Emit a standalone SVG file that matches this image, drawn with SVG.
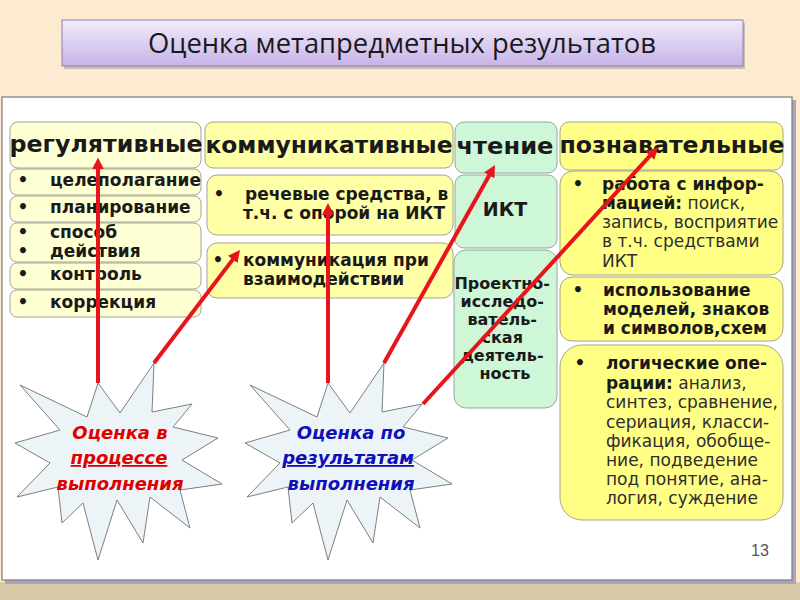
<svg xmlns="http://www.w3.org/2000/svg" width="800" height="600" viewBox="0 0 800 600">
<defs>
<linearGradient id="tg" x1="0" y1="0" x2="0" y2="1">
<stop offset="0" stop-color="#F2ECFB"/>
<stop offset="1" stop-color="#C6B3E8"/>
</linearGradient>
<marker id="ah" viewBox="0 0 10 10" refX="2" refY="5" markerWidth="3" markerHeight="3" orient="auto" markerUnits="strokeWidth">
<path d="M0,0 L10,5 L0,10 z" fill="#E8141B"/>
</marker>
<polygon id="star" points="98,383 120,413 154,363 152,412 192,404 173,427 218,438 182,460 222,484 180,490 190,528 150,497 143,543 117,500 98,560 83,503 62,523 58,487 17,497 50,463 15,443 60,430 20,385 87,417"/>
</defs>
<style>
.c1{fill:#FFFFD4;stroke:#A3A393;stroke-width:1}
.c2{fill:#FFFFA6;stroke:#A3A393;stroke-width:1}
.c3{fill:#CDF7D7;stroke:#97A89B;stroke-width:1}
.c4{fill:#FFFF86;stroke:#A3A38A;stroke-width:1}
.t{font-family:"DejaVu Sans",Verdana,sans-serif;fill:#1A1A1A}
.h{font-size:23px;font-weight:bold}
.i{font-size:17px;font-weight:bold}
.n{font-weight:normal;fill:#2E2E2E}
.st{fill:#EDF4F7;stroke:#7E7E7E;stroke-width:1}
.sx{font-family:"DejaVu Sans",Verdana,sans-serif;font-size:18px;font-weight:bold;font-style:italic;text-anchor:middle}
.ar{stroke:#E8141B;stroke-width:4;fill:none;marker-end:url(#ah)}
</style>

<!-- background -->
<rect x="0" y="0" width="800" height="600" fill="#FCEBD0"/>
<rect x="0" y="582" width="800" height="18" fill="#D8CAA6"/>

<!-- title -->
<g id="title">
<rect x="64" y="23" width="681" height="46" fill="#8E8898" opacity="0.45"/>
<rect x="62" y="20" width="681" height="46" fill="url(#tg)" stroke="#8C7EA6" stroke-width="1"/>
<text x="402" y="53" font-family="'Open Sans','Liberation Sans',sans-serif" font-size="27" fill="#1A1A1A" text-anchor="middle" textLength="508" lengthAdjust="spacingAndGlyphs">Оценка метапредметных результатов</text>
</g>

<!-- white panel -->
<g id="panel">
<rect x="5" y="100" width="791" height="484" fill="#ADA3BC"/>
<rect x="2" y="97" width="790" height="483" fill="#FFFFFF" stroke="#7A7A7A" stroke-width="1.2"/>
<text x="760" y="556" font-family="'Liberation Sans',Arial,sans-serif" font-size="16" fill="#555555" text-anchor="middle">13</text>
</g>

<!-- column 1: регулятивные -->
<g id="reg">
<rect class="c1" x="10" y="122" width="191" height="46" rx="8"/>
<text class="t h" x="106" y="152" text-anchor="middle" textLength="193" lengthAdjust="spacingAndGlyphs">регулятивные</text>
</g>
<g id="reg1">
<rect class="c1" x="10" y="169" width="191" height="26" rx="7"/>
<text class="t i" x="23" y="186" text-anchor="middle">•</text>
<text class="t i" x="50" y="186">целеполагание</text>
</g>
<g id="reg2">
<rect class="c1" x="10" y="196" width="191" height="26" rx="7"/>
<text class="t i" x="23" y="213" text-anchor="middle">•</text>
<text class="t i" x="50" y="213">планирование</text>
</g>
<g id="reg3">
<rect class="c1" x="10" y="223" width="191" height="39" rx="7"/>
<text class="t i" x="23" y="238" text-anchor="middle" font-size="16.5">•</text>
<text class="t i" x="50" y="238" font-size="16.5">способ</text>
<text class="t i" x="23" y="257" text-anchor="middle" font-size="16.5">•</text>
<text class="t i" x="50" y="257" font-size="16.5">действия</text>
</g>
<g id="reg4">
<rect class="c1" x="10" y="263" width="191" height="26" rx="7"/>
<text class="t i" x="23" y="280" text-anchor="middle">•</text>
<text class="t i" x="50" y="280">контроль</text>
</g>
<g id="reg5">
<rect class="c1" x="10" y="290" width="191" height="27" rx="7"/>
<text class="t i" x="23" y="308" text-anchor="middle">•</text>
<text class="t i" x="50" y="308">коррекция</text>
</g>

<!-- column 2: коммуникативные -->
<g id="kom">
<rect class="c2" x="205" y="122" width="248" height="46" rx="8"/>
<text class="t h" x="329" y="153" text-anchor="middle" textLength="247" lengthAdjust="spacingAndGlyphs">коммуникативные</text>
</g>
<g id="kom1">
<rect class="c2" x="207" y="175" width="246" height="60" rx="10"/>
<text class="t i" x="219" y="200" text-anchor="middle">•</text>
<text class="t i" x="245" y="200">речевые средства, в</text>
<text class="t i" x="243" y="219">т.ч. с опорой на ИКТ</text>
</g>
<g id="kom2">
<rect class="c2" x="207" y="243" width="246" height="55" rx="10"/>
<text class="t i" x="218" y="266" text-anchor="middle">•</text>
<text class="t i" x="243" y="266">коммуникация при</text>
<text class="t i" x="243" y="285">взаимодействии</text>
</g>

<!-- column 3: чтение -->
<g id="cht">
<rect class="c3" x="455" y="122" width="102" height="51" rx="9"/>
<text class="t h" x="505" y="154" text-anchor="middle" textLength="97" lengthAdjust="spacingAndGlyphs">чтение</text>
</g>
<g id="ikt">
<rect class="c3" x="455" y="175" width="102" height="73" rx="9"/>
<text class="t" x="505" y="216" font-size="19" font-weight="bold" text-anchor="middle">ИКТ</text>
</g>
<g id="proj">
<rect class="c3" x="454" y="250" width="103" height="158" rx="12"/>
<text class="t" font-size="16" font-weight="bold" text-anchor="middle">
<tspan x="505" y="289">Проектно-</tspan>
<tspan x="505" y="307">исследо-</tspan>
<tspan x="505" y="325">ватель-</tspan>
<tspan x="505" y="343">ская</tspan>
<tspan x="505" y="361">деятель-</tspan>
<tspan x="505" y="379">ность</tspan>
</text>
</g>

<!-- column 4: познавательные -->
<g id="pozn">
<rect class="c4" x="560" y="122" width="223" height="48" rx="9"/>
<text class="t h" x="672" y="153" text-anchor="middle" textLength="225" lengthAdjust="spacingAndGlyphs">познавательные</text>
</g>
<g id="pozn1">
<rect class="c4" x="560" y="171" width="223" height="104" rx="13"/>
<text class="t i" x="578" y="190" text-anchor="middle">•</text>
<text class="t i" x="602" y="190">работа с инфор-</text>
<text class="t i" x="602" y="209">мацией:<tspan class="n"> поиск,</tspan></text>
<text class="t i n" x="602" y="228">запись, восприятие</text>
<text class="t i n" x="602" y="247">в т.ч. средствами</text>
<text class="t i n" x="602" y="267">ИКТ</text>
</g>
<g id="pozn2">
<rect class="c4" x="560" y="277" width="223" height="64" rx="12"/>
<text class="t i" x="578" y="296" text-anchor="middle">•</text>
<text class="t i" x="603" y="296">использование</text>
<text class="t i" x="603" y="315">моделей, знаков</text>
<text class="t i" x="603" y="334">и символов,схем</text>
</g>
<g id="pozn3">
<rect class="c4" x="560" y="345" width="223" height="175" rx="22"/>
<text class="t i" x="580" y="369" text-anchor="middle">•</text>
<text class="t i" x="606" y="369">логические опе-</text>
<text class="t i" x="606" y="389">рации:<tspan class="n"> анализ,</tspan></text>
<text class="t i n" x="606" y="408">синтез, сравнение,</text>
<text class="t i n" x="606" y="428">сериация, класси-</text>
<text class="t i n" x="606" y="447">фикация, обобще-</text>
<text class="t i n" x="606" y="466">ние, подведение</text>
<text class="t i n" x="606" y="485">под понятие, ана-</text>
<text class="t i n" x="606" y="504">логия, суждение</text>
</g>

<!-- stars -->
<g id="star1">
<use href="#star" class="st"/>
<text class="sx" fill="#E00000"><tspan x="120" y="439">Оценка в</tspan><tspan x="119" y="464" text-decoration="underline">процессе</tspan><tspan x="120" y="490">выполнения</tspan></text>
</g>
<g id="star2">
<use href="#star" class="st" transform="translate(230,0)"/>
<text class="sx" fill="#1010B8"><tspan x="351" y="439">Оценка по</tspan><tspan x="348" y="464" text-decoration="underline">результатам</tspan><tspan x="351" y="490">выполнения</tspan></text>
</g>

<!-- connectors -->
<g id="connectors">
<line class="ar" x1="98" y1="383" x2="98" y2="167"/>
<line class="ar" x1="154" y1="363" x2="234.2" y2="257.6"/>
<line class="ar" x1="328" y1="383" x2="328" y2="212.6"/>
<line class="ar" x1="384" y1="363" x2="490.3" y2="173.4"/>
<line class="ar" x1="423" y1="404" x2="651.5" y2="154.1"/>
</g>
</svg>
